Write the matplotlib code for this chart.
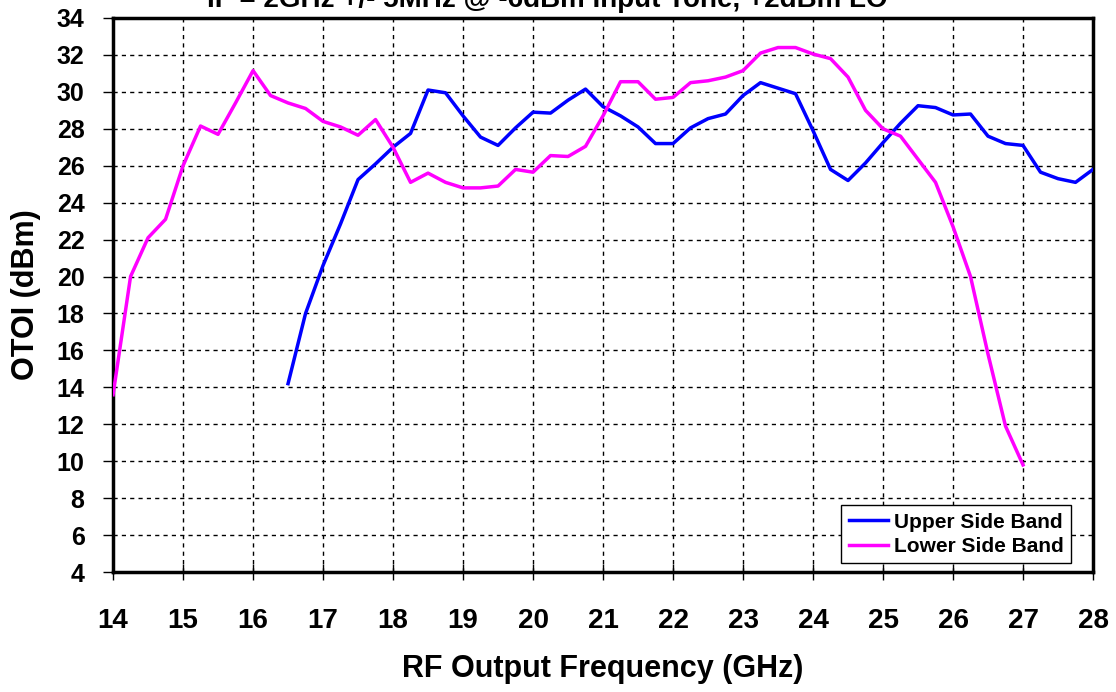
import matplotlib
matplotlib.use("Agg")
import matplotlib.pyplot as plt

# Data (GHz, dBm)
usb_freq = [16.5, 16.75, 17.0, 17.25, 17.5, 17.75, 18.0, 18.25, 18.5, 18.75, 19.0, 19.25,
            19.5, 19.75, 20.0, 20.25, 20.5, 20.75, 21.0, 21.25, 21.5, 21.75, 22.0, 22.25,
            22.5, 22.75, 23.0, 23.25, 23.5, 23.75, 24.0, 24.25, 24.5, 24.75, 25.0, 25.25,
            25.5, 25.75, 26.0, 26.25, 26.5, 26.75, 27.0, 27.25, 27.5, 27.75, 28.0]
usb_otoi = [14.2, 18.0, 20.6, 22.85, 25.25, 26.1, 27.0, 27.75, 30.1, 29.95, 28.7, 27.55,
            27.1, 28.05, 28.9, 28.85, 29.55, 30.15, 29.2, 28.7, 28.1, 27.2, 27.2, 28.05,
            28.55, 28.8, 29.8, 30.5, 30.2, 29.9, 27.9, 25.8, 25.2, 26.15, 27.25, 28.3,
            29.25, 29.15, 28.75, 28.8, 27.6, 27.2, 27.1, 25.65, 25.3, 25.1, 25.8]

lsb_freq = [14.0, 14.25, 14.5, 14.75, 15.0, 15.25, 15.5, 15.75, 16.0, 16.25, 16.5, 16.75,
            17.0, 17.25, 17.5, 17.75, 18.0, 18.25, 18.5, 18.75, 19.0, 19.25, 19.5, 19.75,
            20.0, 20.25, 20.5, 20.75, 21.0, 21.25, 21.5, 21.75, 22.0, 22.25, 22.5, 22.75,
            23.0, 23.25, 23.5, 23.75, 24.0, 24.25, 24.5, 24.75, 25.0, 25.25, 25.5, 25.75,
            26.0, 26.25, 26.5, 26.75, 27.0]
lsb_otoi = [13.6, 20.0, 22.1, 23.1, 26.0, 28.15, 27.7, 29.4, 31.15, 29.8, 29.4, 29.1,
            28.4, 28.1, 27.65, 28.5, 27.0, 25.1, 25.6, 25.1, 24.8, 24.8, 24.9, 25.8,
            25.65, 26.55, 26.5, 27.05, 28.7, 30.55, 30.55, 29.6, 29.7, 30.5, 30.6, 30.8,
            31.15, 32.1, 32.4, 32.4, 32.05, 31.8, 30.8, 29.0, 28.0, 27.6, 26.35, 25.1,
            22.7, 20.0, 15.8, 11.9, 9.8]

x_ticks = list(range(14, 29))
y_ticks = list(range(4, 35, 2))

title = "IF = 2GHz +/- 5MHz @ -6dBm Input Tone, +2dBm LO"
plt.rcParams["font.family"] = ["Liberation Sans", "DejaVu Sans"]
plt.rcParams["font.weight"] = "bold"

fig = plt.figure(figsize=(11.16, 6.92), dpi=100)
ax = fig.add_axes([0.1013, 0.1734, 0.8781, 0.8006])

ax.plot(usb_freq, usb_otoi, color="#0000FF", lw=2.5, label="Upper Side Band", zorder=3)
ax.plot(lsb_freq, lsb_otoi, color="#FF00FF", lw=2.5, label="Lower Side Band", zorder=3)

ax.set_xlim(14, 28)
ax.set_ylim(4, 34)
ax.set_xticks(x_ticks)
ax.set_yticks(y_ticks)
ax.grid(True, color="black", linestyle=(0, (3, 3)), linewidth=1.0)

for s in ax.spines.values():
    s.set_linewidth(2.5)
    s.set_color("black")

ax.tick_params(axis="x", direction="inout", length=12, width=1, pad=20, labelsize=20)
ax.tick_params(axis="y", direction="out", length=7.5, width=1, pad=13, labelsize=18)

ax.set_ylabel("OTOI (dBm)", fontsize=22, fontweight="bold")
ax.yaxis.set_label_coords(-0.0735, 0.5)
ax.set_xlabel("RF Output Frequency (GHz)", fontsize=22, fontweight="bold", labelpad=14)

leg = ax.legend(loc="lower right", bbox_to_anchor=(0.978, 0.016),
                prop={"weight": "bold", "size": 15}, frameon=True, fancybox=False,
                handlelength=1.9, borderpad=0.35, labelspacing=0.25, handletextpad=0.3,
                borderaxespad=0)
leg.get_frame().set_edgecolor("black")
leg.get_frame().set_linewidth(1.0)
leg.get_frame().set_alpha(1)

fig.text(0.4906, 0.990, title, ha="center", va="baseline", fontsize=20,
         fontweight="bold")

fig.savefig("out.png", dpi=100)
